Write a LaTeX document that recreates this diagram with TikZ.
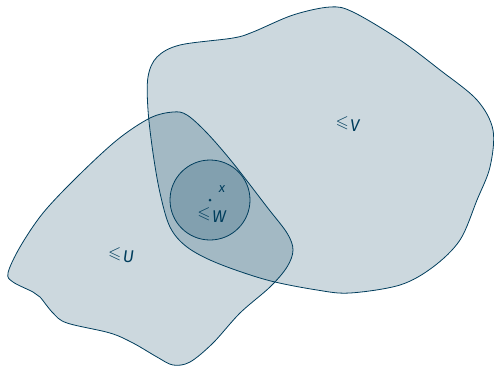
\documentclass[tikz,border=0pt]{standalone}
\usepackage{amssymb}
\usepackage{fontspec}
\setmainfont{Fira Sans}
\definecolor{deep}{RGB}{0,61,92}
\newcommand{\rel}[1]{$\leqslant$\kern1.5pt\raisebox{-3.5pt}{\textit{#1}}}
\begin{document}
\begin{tikzpicture}[x=1pt,y=-1pt,
  region/.style={draw=deep,line width=0.8pt,fill=deep,fill opacity=0.2},
  lbl/.style={text=deep,font=\fontsize{17}{19}\selectfont,inner sep=0pt}]
\useasboundingbox (0,0) rectangle (494,365);
\path[region] plot[smooth cycle,tension=0.55] coordinates {
 (148,77) (157,57) (180,45) (233,38) (253,32) (293,15) (330,7) (353,12)
 (400,40) (440,70) (477,100) (493,130) (490,167) (477,200) (460,240)
 (433,267) (400,285) (350,293) (317,290) (267,280) (217,263) (187,247)
 (170,227) (160,193) (153,153) (148,110)};
\path[region] plot[smooth cycle,tension=0.55] coordinates {
 (8,273) (20,247) (43,213) (77,177) (117,140) (150,118) (173,112) (187,115)
 (207,133) (233,163) (267,207) (287,233) (293,250) (287,267) (270,287)
 (240,313) (213,343) (190,362) (173,365) (157,357) (133,343) (110,333)
 (67,323) (53,313) (40,297) (33,292) (13,282)};
\node[region,circle,minimum size=80pt,inner sep=0pt] (W) at (210,200) {};
\fill[deep] (W.center) circle (1.5pt);
\node[lbl] (x) at (222,189) {\itshape\fontsize{13}{15}\selectfont x};
\node[lbl] (lw) at (212,215) {\rel{W}};
\node[lbl] (lv) at (348,124) {\rel{V}};
\node[lbl] (lu) at (121,255) {\rel{U}};
\end{tikzpicture}
\end{document}
